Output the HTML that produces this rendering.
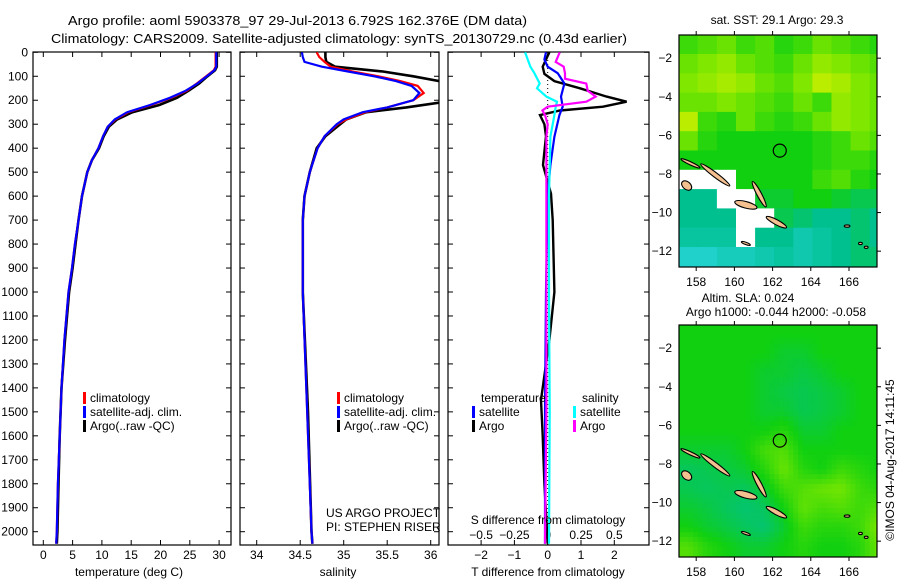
<!DOCTYPE html>
<html><head><meta charset="utf-8"><style>
html,body{margin:0;padding:0;background:#fff;}
svg{display:block;font-family:"Liberation Sans",sans-serif;font-size:12px;}
</style></head><body>
<svg id="fig" width="900" height="580" viewBox="0 0 900 580" xmlns="http://www.w3.org/2000/svg">
<text x="68" y="25" textLength="459" lengthAdjust="spacingAndGlyphs" font-size="13">Argo profile: aoml 5903378_97 29-Jul-2013 6.792S 162.376E (DM data)</text>
<text x="51" y="43" textLength="576" lengthAdjust="spacingAndGlyphs" font-size="13">Climatology: CARS2009. Satellite-adjusted climatology: synTS_20130729.nc (0.43d earlier)</text>
<defs>
<clipPath id="c1"><rect x="33" y="52" width="198" height="493"/></clipPath>
<clipPath id="c2"><rect x="240" y="52" width="199" height="493"/></clipPath>
<clipPath id="c3"><rect x="448" y="52" width="201" height="493"/></clipPath>
<clipPath id="m1"><rect x="679" y="35" width="198" height="232"/></clipPath>
<clipPath id="m2"><rect x="679" y="325" width="198" height="232"/></clipPath>
</defs>
<g id="layer"></g>
<text x="129" y="576" text-anchor="middle">temperature (deg C)</text>
<text x="338" y="576" text-anchor="middle">salinity</text>
<text x="548" y="576" text-anchor="middle">T difference from climatology</text>
<text x="548" y="524" text-anchor="middle">S difference from climatology</text>
<text x="326" y="517">US ARGO PROJECT</text>
<text x="326" y="531">PI: STEPHEN RISER</text>
<text x="777" y="24" text-anchor="middle">sat. SST: 29.1  Argo: 29.3</text>
<text x="748" y="302" text-anchor="middle">Altim. SLA: 0.024</text>
<text x="776" y="316" text-anchor="middle">Argo h1000: -0.044 h2000: -0.058</text>
<text transform="translate(894,460) rotate(-90)" text-anchor="middle">©IMOS 04-Aug-2017 14:11:45</text>
</svg>
<script>
// ---- profile data ----
const tDepth = [0,60,75,100,130,160,190,220,250,280,310,350,400,450,500,600,700,800,900,1000,1200,1400,1600,1800,2000,2050];
const tArgo  = [29.6,29.6,29.3,28.0,26.6,24.8,22.8,19.8,15.2,12.6,11.2,10.3,9.5,8.3,7.5,6.6,6.0,5.5,5.0,4.4,3.7,3.1,2.8,2.6,2.4,2.3];
const tClim  = [29.4,29.4,29.1,27.8,26.2,24.5,21.8,18.4,14.5,12.3,11.0,10.2,9.4,8.3,7.5,6.6,6.0,5.4,4.9,4.3,3.6,3.1,2.8,2.5,2.3,2.2];
const tSat   = [29.5,29.5,29.2,27.9,26.3,24.3,21.6,18.2,14.3,12.2,11.0,10.2,9.4,8.3,7.5,6.6,6.0,5.4,4.9,4.3,3.6,3.1,2.8,2.5,2.3,2.2];
const sDepth = [0,20,40,60,80,100,120,140,170,200,230,250,280,300,350,400,500,600,700,1000,1500,2000,2050];
const sArgo  = [34.79,34.79,34.80,34.90,35.45,35.80,36.10,36.40,36.50,36.30,35.72,35.26,35.03,34.96,34.79,34.69,34.61,34.55,34.53,34.53,34.59,34.63,34.64];
const sClim  = [34.69,34.72,34.78,34.85,35.10,35.40,35.65,35.85,35.92,35.80,35.50,35.25,35.03,34.93,34.78,34.70,34.61,34.55,34.53,34.53,34.58,34.63,34.64];
const sSat   = [34.52,34.53,34.55,34.75,35.05,35.35,35.60,35.78,35.87,35.80,35.50,35.22,35.00,34.92,34.78,34.70,34.61,34.55,34.53,34.53,34.58,34.63,34.64];
const dtArgoDepth = [0,30,60,90,120,150,185,206,227,243,262,300,350,470,590,700,1000,1200,1450,1600,1800,2050];
const dtArgo      = [0.05,-0.05,-0.15,-0.1,0.2,0.97,1.77,2.37,1.66,0.37,-0.23,-0.1,-0.05,-0.14,0.1,0.15,0.2,0.05,-0.2,-0.15,-0.1,0];
const dtSatDepth = [0,30,60,87,130,185,227,262,352,470,600,1000,1500,2050];
const dtSat      = [-0.05,-0.1,0.0,0.3,0.5,0.4,0.45,0.35,0.2,0.08,0.0,-0.05,-0.08,-0.08];
const dsSatDepth = [0,30,60,87,130,150,185,206,227,262,352,600,1000,1500,2050];
const dsSat      = [-0.17,-0.15,-0.13,-0.1,-0.06,-0.08,-0.01,0.07,0.06,0.05,0.02,0.01,0.01,0.015,0.01];
const dsArgoDepth = [0,40,60,87,110,130,160,185,206,227,243,262,300,352,600,1000,1500,2050];
const dsArgo      = [0.09,0.06,0.12,0.13,0.13,0.29,0.3,0.36,0.29,0.0,-0.04,-0.02,0.0,-0.01,-0.01,-0.01,-0.01,-0.02];
const depthTicks = [0,100,200,300,400,500,600,700,800,900,1000,1100,1200,1300,1400,1500,1600,1700,1800,1900,2000];
const tTicks = [0,5,10,15,20,25,30];
const sTicks = [34,34.5,35,35.5,36];
const dTTicks = [-2,-1,0,1,2];
const dSTicks = [-0.5,-0.25,0,0.25,0.5];
// ---- map data (colour index 0..1, null = no data) ----
const sstGrid = [
[0.6,0.65,0.7,0.6,0.65,0.55,0.6,0.7,0.65,0.6,0.55],
[0.7,0.75,0.8,0.7,0.65,0.6,0.7,0.8,0.75,0.7,0.65],
[0.75,0.8,0.85,0.8,0.7,0.65,0.75,0.9,0.85,0.75,0.7],
[0.7,0.7,0.75,0.7,0.65,0.6,0.7,0.6,0.8,0.75,0.7],
[0.9,0.6,0.55,0.7,0.6,0.55,0.6,0.7,0.8,0.75,0.7],
[0.7,0.55,0.5,0.5,0.5,0.5,0.5,0.55,0.6,0.7,0.65],
[0.5,0.5,0.5,0.5,0.5,0.5,0.5,0.55,0.6,0.6,0.55],
[null,null,null,0.5,0.5,0.5,0.5,0.6,0.65,0.55,0.5],
[0.3,0.3,null,null,0.45,0.45,0.5,0.5,0.45,0.4,0.4],
[0.3,0.3,0.3,null,null,0.4,0.35,0.3,0.3,0.35,0.3],
[0.25,0.25,0.25,null,0.3,0.3,0.2,0.25,0.3,0.35,0.3],
[0.1,0.1,0.15,0.15,0.2,0.25,0.2,0.25,0.3,0.35,0.35]];
const slaGrid = [
[.5,.5,.5,.5,.5,.5,.5,.5,.5,.5,.5],
[.5,.5,.5,.5,.5,.45,.45,.5,.5,.5,.5],
[.5,.5,.5,.5,.45,.45,.42,.45,.5,.5,.5],
[.5,.5,.5,.5,.45,.42,.4,.42,.45,.5,.5],
[.5,.5,.5,.5,.45,.45,.4,.42,.45,.5,.5],
[.5,.5,.5,.5,.5,.55,.45,.45,.5,.5,.5],
[.45,.45,.45,.5,.62,.65,.5,.5,.5,.5,.5],
[.38,.4,.42,.45,.55,.7,.55,.5,.6,.55,.5],
[.4,.38,.4,.38,.45,.6,.65,.7,.72,.6,.55],
[.45,.42,.38,.35,.38,.5,.68,.62,.65,.6,.65],
[.5,.45,.42,.38,.35,.45,.6,.55,.55,.6,.75],
[.65,.55,.5,.45,.45,.5,.55,.5,.5,.55,.7]];
const lonTicks = [158,160,162,164,166];
const latTicks = [-2,-4,-6,-8,-10,-12];
const argoLon = 162.376, argoLat = -6.792;

const NS="http://www.w3.org/2000/svg";
const L=document.getElementById('layer');
function mk(tag,attrs,parent){const e=document.createElementNS(NS,tag);for(const k in attrs)e.setAttribute(k,attrs[k]);(parent||L).appendChild(e);return e;}
const yD = d => 52.3 + 0.2397*d;
const xT = t => 43.3 + 5.86*t;
const xS = s => 256.7 + 87*(s-34);
const xDT = t => 547.7 + 33.3*t;
const xDS = s => 547.7 + 133.2*s;
function line(xs,ds,fx,col,clip,name,w){
  let p='';for(let i=0;i<xs.length;i++)p+=(i?'L':'M')+fx(xs[i]).toFixed(1)+' '+yD(ds[i]).toFixed(1);
  const e=mk('path',{d:p,fill:'none',stroke:col,'stroke-width':w||2.2,'clip-path':'url(#'+clip+')'});
  
  
}
function box(x,y,w,h,name){const e=mk('rect',{x:x,y:y,width:w,height:h,fill:'none',stroke:'#000','stroke-width':1.2});
  
  }
function tickY(x0,x1){depthTicks.forEach(d=>{const y=yD(d);mk('line',{x1:x0,y1:y,x2:x0+5,y2:y,stroke:'#000'});mk('line',{x1:x1,y1:y,x2:x1-5,y2:y,stroke:'#000'});});}
function tickX(vals,f,lblY,top,bottom,name){vals.forEach(v=>{const x=f(v);
  if(top!==null)mk('line',{x1:x,y1:top,x2:x,y2:top+5,stroke:'#000'});
  if(bottom!==null)mk('line',{x1:x,y1:bottom,x2:x,y2:bottom-5,stroke:'#000'});
  const t=mk('text',{x:x,y:lblY,'text-anchor':'middle'});t.textContent=String(v).replace('-','\u2212');
  
  
});}
depthTicks.forEach(d=>{const t=mk('text',{x:28,y:yD(d)+4,'text-anchor':'end'});t.textContent=d;
  
  });
box(33,52,198,493,'temperature-panel');box(240,52,199,493,'salinity-panel');box(448,52,201,493,'difference-panel');
tickY(33,231);tickY(240,439);tickY(448,649);
tickX(tTicks,xT,559,52,545,'temp-tick-label');
tickX(sTicks,xS,559,52,545,'sal-tick-label');
tickX(dTTicks,xDT,559,52,545,'diff-t-tick-label');
dSTicks.forEach(v=>{const t=mk('text',{x:xDS(v),y:539,'text-anchor':'middle'});t.textContent=String(v).replace('-','\u2212');
  
  });
mk('line',{x1:xDT(0),y1:52,x2:xDT(0),y2:545,stroke:'#000','stroke-dasharray':'1 3'});
line(tArgo,tDepth,xT,'#000','c1','temp-argo-line',2.6);
line(tClim,tDepth,xT,'#f00','c1','temp-climatology-line');
line(tSat,tDepth,xT,'#00f','c1','temp-satellite-line');
line(sArgo,sDepth,xS,'#000','c2','sal-argo-line',2.6);
line(sClim,sDepth,xS,'#f00','c2','sal-climatology-line');
line(sSat,sDepth,xS,'#00f','c2','sal-satellite-line');
line(dtArgo,dtArgoDepth,xDT,'#000','c3','diff-t-argo-line',2.4);
line(dtSat,dtSatDepth,xDT,'#00f','c3','diff-t-satellite-line');
line(dsSat,dsSatDepth,xDS,'#0ff','c3','diff-s-satellite-line');
line(dsArgo,dsArgoDepth,xDS,'#f0f','c3','diff-s-argo-line');
function leg(x,y,col,label,name){mk('rect',{x:x,y:y-10,width:3,height:12,fill:col});
  const t=mk('text',{x:x+7,y:y});t.textContent=label;
  
  }
[[83,'#f00','climatology'],[83,'#00f','satellite-adj. clim.'],[83,'#000','Argo(..raw -QC)']].forEach((r,i)=>leg(r[0],402+14*i,r[1],r[2],'temp-legend-entry'));
[[337,'#f00','climatology'],[337,'#00f','satellite-adj. clim.'],[337,'#000','Argo(..raw -QC)']].forEach((r,i)=>leg(r[0],402+14*i,r[1],r[2],'sal-legend-entry'));
{const t=mk('text',{x:481,y:402});t.textContent='temperature';}
{const t=mk('text',{x:582,y:402});t.textContent='salinity';}
leg(472,416,'#00f','satellite','diff-legend-entry');leg(472,430,'#000','Argo','diff-legend-entry');
leg(573,416,'#0ff','satellite','diff-legend-entry');leg(573,430,'#f0f','Argo','diff-legend-entry');
// maps
const stops=[[0,[48,216,232]],[0.3,[0,192,144]],[0.5,[16,208,16]],[0.75,[128,232,0]],[1,[224,240,0]]];
function cmap(v){for(let i=1;i<stops.length;i++){if(v<=stops[i][0]){const a=stops[i-1],b=stops[i],f=(v-a[0])/(b[0]-a[0]);
 return 'rgb('+a[1].map((c,k)=>Math.round(c+f*(b[1][k]-c))).join(',')+')';}}return 'rgb(224,240,0)';}
function sample(grid,fr,fc){ // bilinear between cell centres, null-aware
  const R=grid.length,C=grid[0].length;
  const r0=Math.max(0,Math.min(R-1,Math.floor(fr))),c0=Math.max(0,Math.min(C-1,Math.floor(fc)));
  const r1=Math.min(R-1,r0+1),c1=Math.min(C-1,c0+1);
  const a=Math.max(0,Math.min(1,fr-r0)),b=Math.max(0,Math.min(1,fc-c0));
  const v=[grid[r0][c0],grid[r0][c1],grid[r1][c0],grid[r1][c1]];
  if(v.some(x=>x===null))return grid[Math.round(Math.min(R-1,Math.max(0,fr)))][Math.round(Math.min(C-1,Math.max(0,fc)))];
  return (v[0]*(1-b)+v[1]*b)*(1-a)+(v[2]*(1-b)+v[3]*b)*a;
}
function drawMap(grid,top,clip,name,sub){
  const lon0=157.1,lat0=-0.8,ppd=19.1,pplat=19.3;
  const xL=lon=>679+(lon-lon0)*ppd, yL=lat=>top+(lat0-lat)*pplat;
  const g=mk('g',{'clip-path':'url(#'+clip+')'});
  
  
  const R=grid.length,C=grid[0].length;
  for(let r=0;r<R*sub;r++)for(let c=0;c<C*sub;c++){
    const v=sub===1?grid[r][c]:sample(grid,(r+0.5)/sub-0.5,(c+0.5)/sub-0.5);
    const cell=mk('rect',{x:xL(lon0+c/sub)-0.3,y:yL(lat0-r/sub)-0.3,width:ppd/sub+0.6,height:pplat/sub+0.6,fill:v===null?'#fff':cmap(v)},g);
    
    
  }
  const isl=[[157.7,-7.45,0.55,0.08,25],[159.0,-8.05,0.95,0.12,37],[157.5,-8.6,0.3,0.2,40],[160.6,-9.6,0.6,0.17,15],[161.3,-9.05,0.75,0.12,62],[162.2,-10.5,0.6,0.13,28],[160.6,-11.6,0.25,0.06,20],[165.9,-10.7,0.15,0.06,0],[166.6,-11.6,0.1,0.06,0],[166.9,-11.8,0.1,0.06,0]];
  isl.forEach(s=>{const e=mk('ellipse',{cx:xL(s[0]),cy:yL(s[1]),rx:s[2]*ppd,ry:s[3]*pplat,fill:'#f5c090',stroke:'#000','stroke-width':1.1,transform:'rotate('+s[4]+' '+xL(s[0])+' '+yL(s[1])+')'},g);
    
    });
  const c=mk('circle',{cx:xL(argoLon),cy:yL(argoLat),r:6.5,fill:'none',stroke:'#000','stroke-width':1.2});
  
  
  box(679,top,198,232,name+'-frame');
  lonTicks.forEach(v=>{const x=xL(v);mk('line',{x1:x,y1:top,x2:x,y2:top-4,stroke:'#000'});mk('line',{x1:x,y1:top+232,x2:x,y2:top+236,stroke:'#000'});
    const t=mk('text',{x:x,y:top+251,'text-anchor':'middle'});t.textContent=v;
    
    });
  latTicks.forEach(v=>{const y=yL(v);mk('line',{x1:877,y1:y,x2:881,y2:y,stroke:'#000'});
    const t=mk('text',{x:672,y:y+4,'text-anchor':'end'});t.textContent=String(v).replace('-','\u2212');
    
    });
}
drawMap(sstGrid,35,'m1','sst-map',1);
drawMap(slaGrid,325,'m2','sla-map',4);
</script>
</body></html>
